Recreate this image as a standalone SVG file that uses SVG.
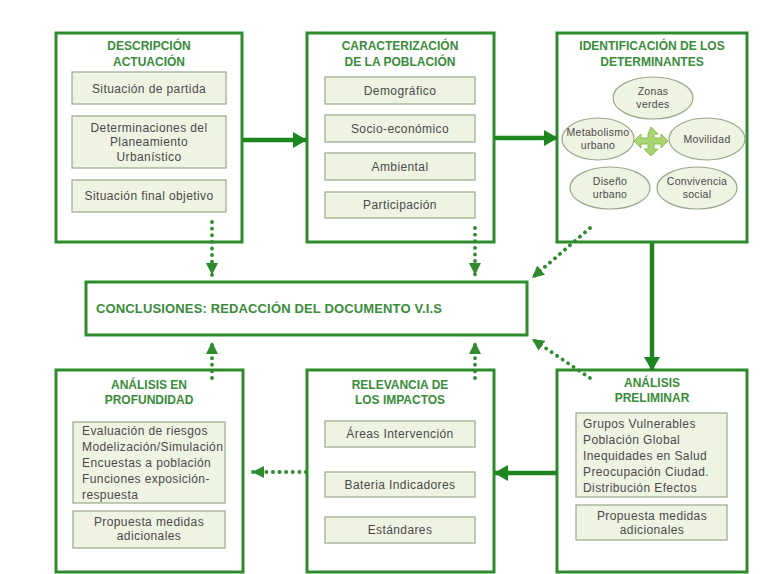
<svg xmlns="http://www.w3.org/2000/svg" width="782" height="574" viewBox="0 0 782 574">
<defs>
<style>
.box{fill:#ffffff;stroke:#2e8b2e;stroke-width:3}
.inner{fill:#eff3e2;stroke:#98a88c;stroke-width:1.2}
.ell{fill:#eff3e2;stroke:#98a88c;stroke-width:1.2}
.title{font-family:"Liberation Sans",Arial,sans-serif;font-weight:bold;font-size:12px;fill:#3a8c3a;text-anchor:middle}
.t{font-family:"Liberation Sans",Arial,sans-serif;font-size:12px;fill:#4a4a4a;text-anchor:middle;letter-spacing:0.4px}
.tl{font-family:"Liberation Sans",Arial,sans-serif;font-size:12px;fill:#4a4a4a;letter-spacing:0.4px}
.te{font-family:"Liberation Sans",Arial,sans-serif;font-size:10.5px;fill:#4a4a4a;text-anchor:middle;letter-spacing:0.3px}
.concl{font-family:"Liberation Sans",Arial,sans-serif;font-weight:bold;font-size:13px;fill:#3a8c3a}
.solid{stroke:#1f861f;stroke-width:4.5;fill:none}
.dot{stroke:#2e8b2e;stroke-width:3.8;fill:none;stroke-dasharray:0.1 6.5;stroke-linecap:round}
</style>
<marker id="ah" viewBox="0 0 14 16" refX="13" refY="8" markerWidth="14" markerHeight="16" markerUnits="userSpaceOnUse" orient="auto">
<path d="M0,0 L14,8 L0,16 z" fill="#1f861f"/>
</marker>
<marker id="ad" viewBox="0 0 12 12" refX="12" refY="6" markerWidth="12" markerHeight="12" markerUnits="userSpaceOnUse" orient="auto">
<path d="M0,0 L12,6 L0,12 z" fill="#2e8b2e"/>
</marker>
</defs>
<rect width="782" height="574" fill="#ffffff"/>

<g id="descripcion">
<rect class="box" x="56" y="33" width="186" height="209"/>
<text class="title" x="149" y="50">DESCRIPCIÓN</text>
<text class="title" x="149" y="66">ACTUACIÓN</text>
<rect class="inner" x="72" y="72" width="154" height="32"/>
<text class="t" x="149" y="93">Situación de partida</text>
<rect class="inner" x="72" y="116" width="154" height="52"/>
<text class="t" x="149" y="132">Determinaciones del</text>
<text class="t" x="149" y="146">Planeamiento</text>
<text class="t" x="149" y="161">Urbanístico</text>
<rect class="inner" x="72" y="180" width="154" height="32"/>
<text class="t" x="149" y="200">Situación final objetivo</text>
</g>

<g id="caracterizacion">
<rect class="box" x="307" y="33" width="187" height="209"/>
<text class="title" x="400" y="50">CARACTERIZACIÓN</text>
<text class="title" x="400" y="66">DE LA POBLACIÓN</text>
<rect class="inner" x="325" y="77" width="150" height="27"/>
<text class="t" x="400" y="95">Demográfico</text>
<rect class="inner" x="325" y="115" width="150" height="27"/>
<text class="t" x="400" y="133">Socio-económico</text>
<rect class="inner" x="325" y="153" width="150" height="27"/>
<text class="t" x="400" y="171">Ambiental</text>
<rect class="inner" x="325" y="192" width="150" height="26"/>
<text class="t" x="400" y="209">Participación</text>
</g>

<g id="identificacion">
<rect class="box" x="557" y="33" width="190" height="209"/>
<text class="title" x="652" y="50">IDENTIFICACIÓN DE LOS</text>
<text class="title" x="652" y="66">DETERMINANTES</text>
<ellipse class="ell" cx="653" cy="98" rx="40" ry="21"/>
<text class="te" x="653" y="95">Zonas</text>
<text class="te" x="653" y="108">verdes</text>
<ellipse class="ell" cx="598" cy="139" rx="36" ry="21"/>
<text class="te" x="598" y="136">Metabolismo</text>
<text class="te" x="598" y="149">urbano</text>
<ellipse class="ell" cx="707" cy="139" rx="38" ry="21"/>
<text class="te" x="707" y="143">Movilidad</text>
<ellipse class="ell" cx="610" cy="188" rx="40" ry="21"/>
<text class="te" x="610" y="185">Diseño</text>
<text class="te" x="610" y="198">urbano</text>
<ellipse class="ell" cx="697" cy="188" rx="40" ry="21"/>
<text class="te" x="697" y="185">Convivencia</text>
<text class="te" x="697" y="198">social</text>
<path d="M651,127 L658,134 L654,134 L654,138 L661,138 L661,134 L668,141 L661,148 L661,144 L654,144 L654,149 L658,149 L651,156 L644,149 L648,149 L648,144 L641,144 L641,148 L634,141 L641,134 L641,138 L648,138 L648,134 Z" fill="#a9d46f" stroke="#8cbf55" stroke-width="1"/>
</g>

<g id="conclusiones">
<rect class="box" x="86" y="282" width="441" height="53"/>
<text class="concl" x="96" y="313" textLength="346" lengthAdjust="spacing">CONCLUSIONES: REDACCIÓN DEL DOCUMENTO V.I.S</text>
</g>

<g id="analisis-profundidad">
<rect class="box" x="56" y="370" width="187" height="202"/>
<text class="title" x="149" y="389">ANÁLISIS EN</text>
<text class="title" x="149" y="404">PROFUNDIDAD</text>
<rect class="inner" x="73" y="422" width="152" height="81"/>
<text class="tl" x="82" y="435">Evaluación de riesgos</text>
<text class="tl" x="82" y="451">Modelización/Simulación</text>
<text class="tl" x="82" y="467">Encuestas a población</text>
<text class="tl" x="82" y="483">Funciones exposición-</text>
<text class="tl" x="82" y="499">respuesta</text>
<rect class="inner" x="73" y="511" width="152" height="37"/>
<text class="t" x="149" y="526">Propuesta medidas</text>
<text class="t" x="149" y="540">adicionales</text>
</g>

<g id="relevancia">
<rect class="box" x="307" y="370" width="187" height="202"/>
<text class="title" x="400" y="389">RELEVANCIA DE</text>
<text class="title" x="400" y="404">LOS IMPACTOS</text>
<rect class="inner" x="325" y="421" width="150" height="26"/>
<text class="t" x="400" y="438">Áreas Intervención</text>
<rect class="inner" x="325" y="472" width="150" height="25"/>
<text class="t" x="400" y="489">Bateria Indicadores</text>
<rect class="inner" x="325" y="517" width="150" height="26"/>
<text class="t" x="400" y="534">Estándares</text>
</g>

<g id="analisis-preliminar">
<rect class="box" x="557" y="370" width="190" height="202"/>
<text class="title" x="652" y="387">ANÁLISIS</text>
<text class="title" x="652" y="402">PRELIMINAR</text>
<rect class="inner" x="576" y="413" width="151" height="84"/>
<text class="tl" x="583" y="428">Grupos Vulnerables</text>
<text class="tl" x="583" y="444">Población Global</text>
<text class="tl" x="583" y="460">Inequidades en Salud</text>
<text class="tl" x="583" y="476">Preocupación Ciudad.</text>
<text class="tl" x="583" y="492">Distribución Efectos</text>
<rect class="inner" x="576" y="505" width="151" height="35"/>
<text class="t" x="652" y="520">Propuesta medidas</text>
<text class="t" x="652" y="534">adicionales</text>
</g>

<g id="connectors">
<line class="solid" x1="243" y1="140" x2="306" y2="140" marker-end="url(#ah)"/>
<line class="solid" x1="495" y1="138" x2="557" y2="138" marker-end="url(#ah)"/>
<line class="solid" x1="652" y1="243" x2="652" y2="370" marker-end="url(#ah)"/>
<line class="solid" x1="557" y1="473" x2="495" y2="473" marker-end="url(#ah)"/>
<line class="dot" x1="212" y1="222" x2="212" y2="275" marker-end="url(#ad)"/>
<line class="dot" x1="475" y1="228" x2="475" y2="275" marker-end="url(#ad)"/>
<line class="dot" x1="590" y1="228" x2="532" y2="278" marker-end="url(#ad)"/>
<line class="dot" x1="212" y1="378" x2="212" y2="342" marker-end="url(#ad)"/>
<line class="dot" x1="475" y1="378" x2="475" y2="342" marker-end="url(#ad)"/>
<line class="dot" x1="590" y1="378" x2="532" y2="339" marker-end="url(#ad)"/>
<line class="dot" x1="306" y1="472" x2="252" y2="472" marker-end="url(#ad)"/>
</g>
</svg>
